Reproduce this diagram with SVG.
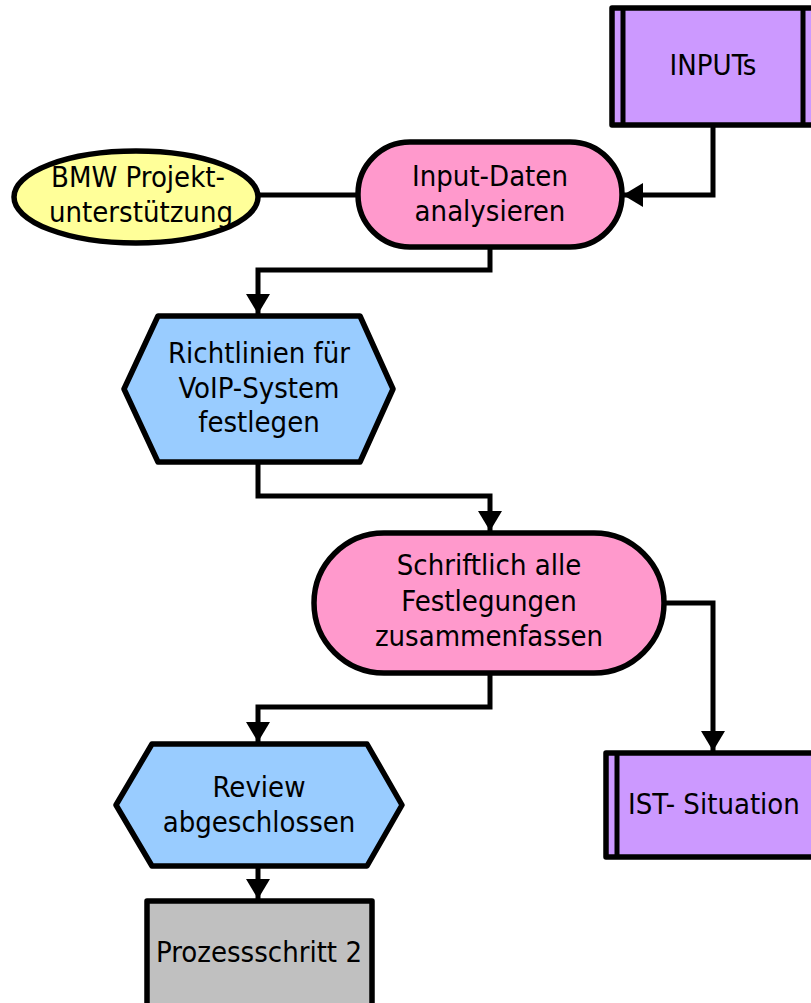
<svg xmlns="http://www.w3.org/2000/svg" width="811" height="1003" viewBox="0 0 811 1003">
  <style>
    .shape { stroke: #000; stroke-width: 5.5; stroke-linejoin: round; }
    .inner { stroke: #000; stroke-width: 5; fill: none; }
    .event { fill: #99CCFF; }
    .func { fill: #FF99CC; }
    .info { fill: #CC99FF; }
    .org { fill: #FFFF99; }
    .proc { fill: #C0C0C0; }
    .wire { fill: none; stroke: #000; stroke-width: 5; stroke-linejoin: miter; }
    text { font-family: "DejaVu Sans Condensed", "DejaVu Sans", sans-serif; font-size: 29px; fill: #000; text-anchor: middle; }
  </style>
  <defs>
    <marker id="arrow" viewBox="0 0 20 24" refX="20" refY="12" markerWidth="20" markerHeight="24" markerUnits="userSpaceOnUse" orient="auto">
      <path d="M0,0 L20,12 L0,24 Z" fill="#000"/>
    </marker>
  </defs>

  <g id="connectors">
    <path class="wire" d="M713,125 V195 H623" marker-end="url(#arrow)"/>
    <path class="wire" d="M258,195 H358"/>
    <path class="wire" d="M490,247 V270 H258 V314" marker-end="url(#arrow)"/>
    <path class="wire" d="M258,463 V496 H490 V531" marker-end="url(#arrow)"/>
    <path class="wire" d="M664,603 H713 V751" marker-end="url(#arrow)"/>
    <path class="wire" d="M490,673 V707 H258 V742" marker-end="url(#arrow)"/>
    <path class="wire" d="M258,867 V899" marker-end="url(#arrow)"/>
  </g>

  <g id="inputs">
    <rect class="shape info" x="612" y="8" width="210" height="117"/>
    <line class="inner" x1="623" y1="8" x2="623" y2="125"/>
    <line class="inner" x1="803" y1="8" x2="803" y2="125"/>
    <text x="713" y="75">INPUTs</text>
  </g>

  <g id="bmw-projektunterstuetzung">
    <ellipse class="shape org" cx="136" cy="197" rx="122" ry="46"/>
    <text x="138" y="187">BMW Projekt-</text>
    <text x="141" y="222">unterstützung</text>
  </g>

  <g id="input-daten-analysieren">
    <rect class="shape func" x="358" y="142" width="264" height="105" rx="52" ry="52"/>
    <text x="490" y="186">Input-Daten</text>
    <text x="490" y="221">analysieren</text>
  </g>

  <g id="richtlinien-festlegen">
    <polygon class="shape event" points="158,316 360,316 393,389 360,462 158,462 124,389"/>
    <text x="259" y="363">Richtlinien für</text>
    <text x="259" y="398">VoIP-System</text>
    <text x="259" y="432">festlegen</text>
  </g>

  <g id="festlegungen-zusammenfassen">
    <rect class="shape func" x="314" y="533" width="350" height="140" rx="70" ry="70"/>
    <text x="489" y="575">Schriftlich alle</text>
    <text x="489" y="611">Festlegungen</text>
    <text x="489" y="646">zusammenfassen</text>
  </g>

  <g id="review-abgeschlossen">
    <polygon class="shape event" points="152,744 367,744 402,805 367,866 152,866 116,805"/>
    <text x="259" y="797">Review</text>
    <text x="259" y="832">abgeschlossen</text>
  </g>

  <g id="ist-situation">
    <rect class="shape info" x="606" y="753" width="220" height="104"/>
    <line class="inner" x1="617" y1="753" x2="617" y2="857"/>
    <text x="714" y="814">IST- Situation</text>
  </g>

  <g id="prozessschritt-2">
    <rect class="shape proc" x="147" y="901" width="225" height="120"/>
    <text x="259" y="962">Prozessschritt 2</text>
  </g>
</svg>
